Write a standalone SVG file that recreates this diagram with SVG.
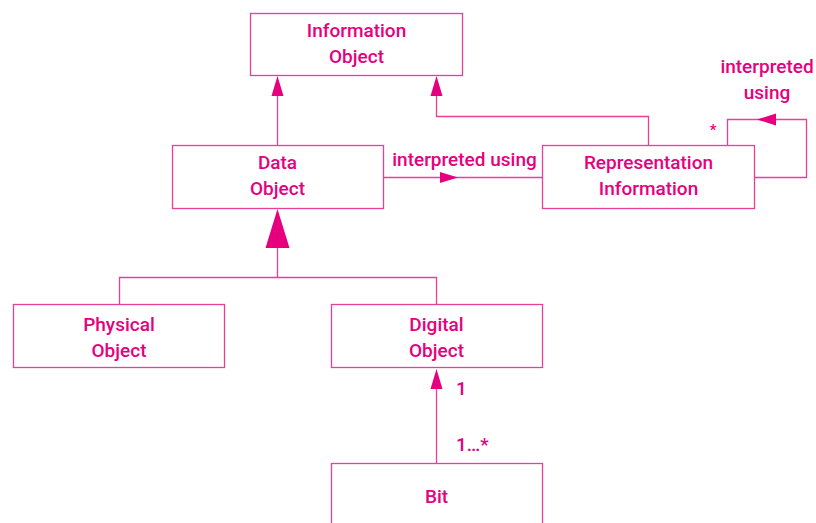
<svg xmlns="http://www.w3.org/2000/svg" width="816" height="523" viewBox="0 0 816 523">
  <style>
    .box { fill: #ffffff; stroke: #ea3f96; stroke-width: 1.3; }
    .line { fill: none; stroke: #ea3f96; stroke-width: 1.3; }
    .head { fill: #e6007e; stroke: none; }
    text { font-family: Roboto, "Liberation Sans", sans-serif; font-weight: 500; font-size: 19px; fill: #e6007e; }
    .c { text-anchor: middle; }
    .small { font-size: 15px; }
  </style>
  <rect width="816" height="523" fill="#ffffff"/>

  <!-- connectors -->
  <g id="connectors">
    <!-- Data Object -> Information Object -->
    <line class="line" x1="277.5" y1="145" x2="277.5" y2="92"/>
    <polygon class="head" points="277.5,76 271.5,96 283.5,96"/>
    <!-- Representation Information -> Information Object -->
    <polyline class="line" points="648.5,145 648.5,116.5 436.5,116.5 436.5,92"/>
    <polygon class="head" points="436.5,76 430.5,96 442.5,96"/>
    <!-- Data Object interpreted using Representation Information -->
    <line class="line" x1="383" y1="177.5" x2="542" y2="177.5"/>
    <polygon class="head" points="458,177.5 440,172 440,183"/>
    <!-- Representation Information self association -->
    <polyline class="line" points="727.5,145 727.5,119.5 806.5,119.5 806.5,177.5 754,177.5"/>
    <polygon class="head" points="757,119.5 776,113.5 776,125.5"/>
    <!-- generalisation of Physical / Digital Object -->
    <polyline class="line" points="119.5,304 119.5,277.5 436.5,277.5 436.5,304"/>
    <line class="line" x1="277.5" y1="277.5" x2="277.5" y2="248"/>
    <polygon class="head" points="277.5,209 265.5,248 289.5,248"/>
    <!-- Bit -> Digital Object -->
    <line class="line" x1="436.5" y1="463" x2="436.5" y2="385"/>
    <polygon class="head" points="436.5,369 430.5,389 442.5,389"/>
  </g>

  <!-- connector labels -->
  <g id="labels">
    <text class="c" x="464.5" y="166">interpreted using</text>
    <text class="c" x="767" y="73">interpreted</text>
    <text class="c" x="767" y="99">using</text>
    <text class="c small" x="713" y="135">*</text>
    <text x="456" y="395">1</text>
    <text x="456" y="451">1…*</text>
  </g>

  <g id="information-object">
    <rect class="box" x="250.5" y="13.5" width="212" height="62"/>
    <text class="c" x="356.5" y="37">Information</text>
    <text class="c" x="356.5" y="63">Object</text>
  </g>

  <g id="data-object">
    <rect class="box" x="172.5" y="145.5" width="211" height="63"/>
    <text class="c" x="277.5" y="169">Data</text>
    <text class="c" x="277.5" y="195">Object</text>
  </g>

  <g id="representation-information">
    <rect class="box" x="542.5" y="145.5" width="212" height="63"/>
    <text class="c" x="648.5" y="169">Representation</text>
    <text class="c" x="648.5" y="195">Information</text>
  </g>

  <g id="physical-object">
    <rect class="box" x="13.5" y="304.5" width="211" height="63"/>
    <text class="c" x="119" y="331">Physical</text>
    <text class="c" x="119" y="357">Object</text>
  </g>

  <g id="digital-object">
    <rect class="box" x="331.5" y="304.5" width="211" height="63"/>
    <text class="c" x="436.5" y="331">Digital</text>
    <text class="c" x="436.5" y="357">Object</text>
  </g>

  <g id="bit">
    <rect class="box" x="331.5" y="463.5" width="211" height="80"/>
    <text class="c" x="436.5" y="503">Bit</text>
  </g>
</svg>
